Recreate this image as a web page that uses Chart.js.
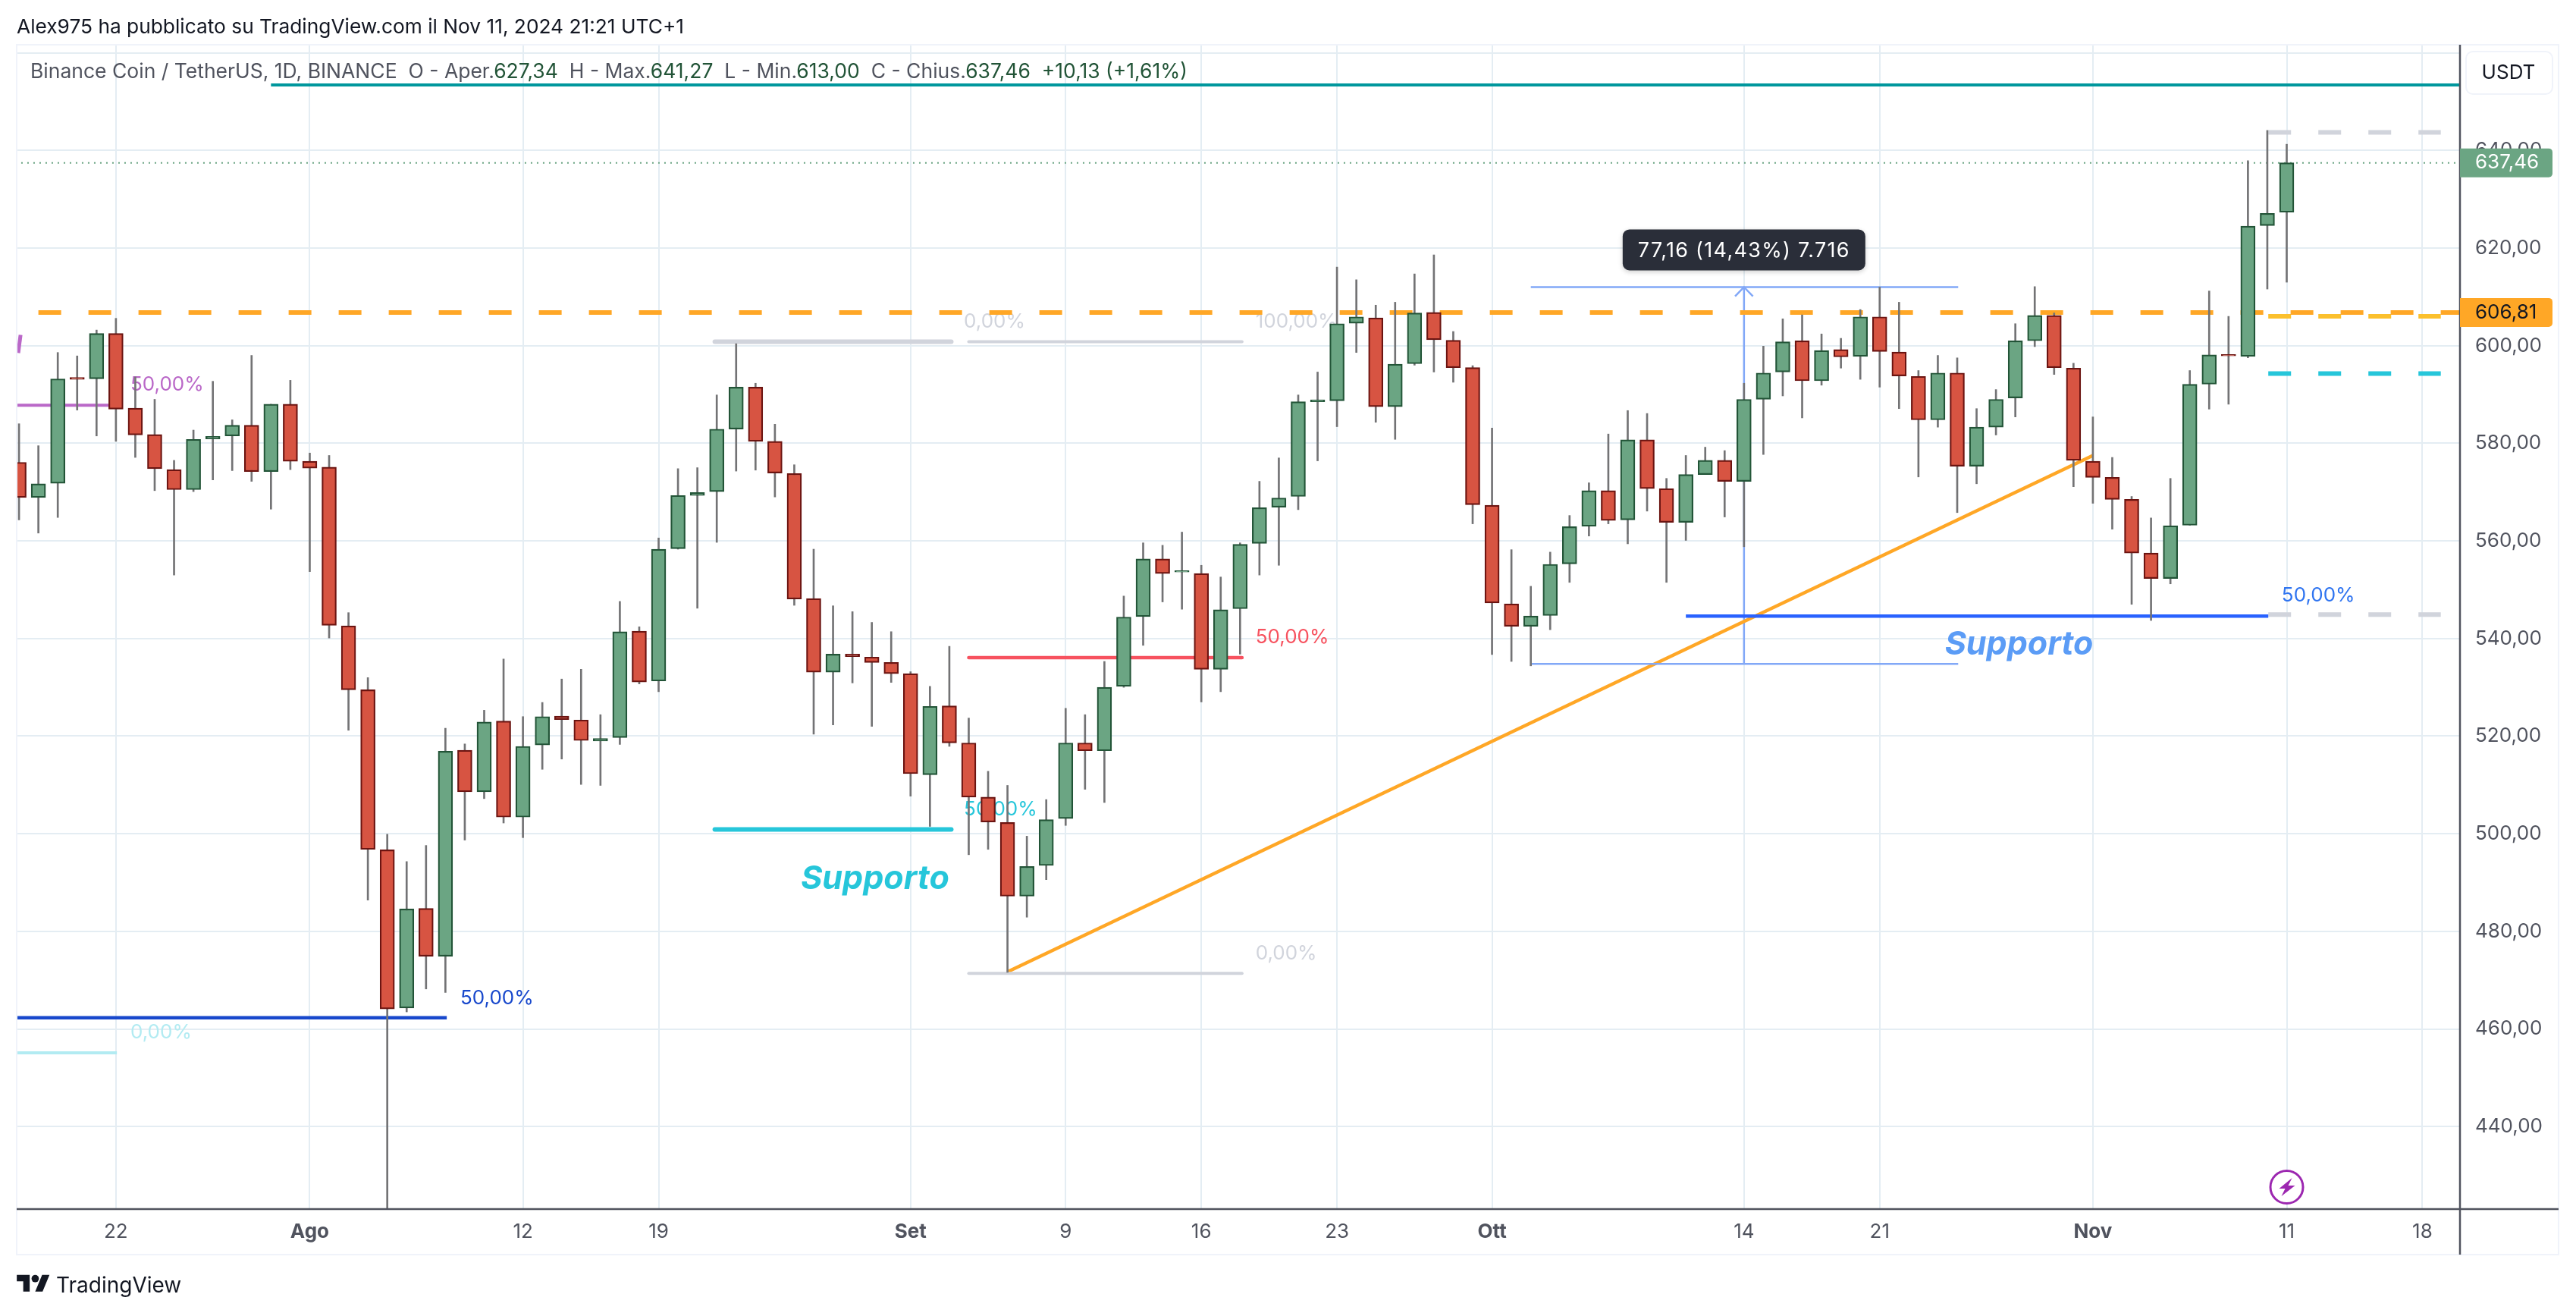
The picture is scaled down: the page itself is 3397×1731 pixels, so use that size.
<!DOCTYPE html>
<html lang="it">
<head>
<meta charset="utf-8">
<title>BNB / USDT</title>
<script src="https://cdn.jsdelivr.net/npm/chart.js@4"></script>
<style>
    html, body { margin: 0; padding: 0; background: #fff; }
    body { width: 3397px; height: 1731px; position: relative; overflow: hidden; font-family: Inter, sans-serif; }
    canvas { position: absolute; left: 0; top: 0; }
    .testata { position: absolute; left: 22px; top: 19px; font-size: 26.3px; line-height: 31px; color: #131722; white-space: pre; }
    .legenda { position: absolute; left: 40px; top: 78px; font-size: 26.5px; line-height: 31px; color: #50535e; white-space: pre; }
    .legenda b { font-weight: 400; color: #225437; }
    .marchio { position: absolute; left: 22px; top: 1676px; }
    .marchio-testo { position: absolute; left: 74px; top: 1677px; font-size: 28px; line-height: 34px; color: #131722; }
</style>
</head>
<body>
<canvas id="grafico" width="3397" height="1731"></canvas>
<div class="testata">Alex975 ha pubblicato su TradingView.com il Nov 11, 2024 21:21 UTC+1</div>
<div class="legenda">Binance Coin / TetherUS, 1D, BINANCE  O - Aper.<b>627,34</b>  H - Max.<b>641,27</b>  L - Min.<b>613,00</b>  C - Chius.<b>637,46</b>  <b>+10,13 (+1,61%)</b></div>
<svg class="marchio" width="44" height="34" viewBox="0 0 36 28"><path fill="#131722" d="M14 22H7V11H0V4h14v18zM28 22h-8l7.5-18h8L28 22z"/><circle fill="#131722" cx="20" cy="8" r="4"/></svg>
<div class="marchio-testo">TradingView</div>
<script>
// giorni contati dal 22 luglio 2024 (giorno 0)
const days = [-5,-4,-3,-2,-1,0,1,2,3,4,5,6,7,8,9,10,11,12,13,14,15,16,17,18,19,20,21,22,23,24,25,26,27,28,29,30,31,32,33,34,35,36,37,38,39,40,41,42,43,44,45,46,47,48,49,50,51,52,53,54,55,56,57,58,59,60,61,62,63,64,65,66,67,68,69,70,71,72,73,74,75,76,77,78,79,80,81,82,83,84,85,86,87,88,89,90,91,92,93,94,95,96,97,98,99,100,101,102,103,104,105,106,107,108,109,110,111,112];

const opens = [576.1,568.9,571.8,593.5,593.2,602.5,587.2,581.8,574.6,570.5,580.9,581.5,583.7,574.2,588,576.3,575.1,542.6,529.5,496.7,464.3,484.7,474.9,517.1,508.6,523.1,503.4,518.2,524.1,523.3,519,519.7,541.5,531.3,558.4,569.3,570.1,582.9,591.5,580.4,573.8,548.2,533.1,536.8,536.2,535.1,532.8,512.1,526.2,518.6,507.5,502.3,487.2,493.5,503.1,518.6,517,530.2,544.5,556.3,553.6,553.3,533.7,546.1,559.5,566.9,569.1,588.5,588.7,604.6,605.7,587.5,596.3,606.8,601.1,595.5,567.3,547.1,542.5,544.7,555.3,563,570.3,564.3,580.7,570.7,563.8,573.6,576.5,572.2,589,594.6,601,592.8,599.2,597.8,605.9,598.7,593.7,584.8,594.4,575.3,583.3,589.3,601,606.2,595.4,576.3,573,568.5,557.5,552.3,563.2,592.1,598.2,597.8,624.6,627.34];
const highs = [584,579.5,598.6,597.9,603.2,605.6,593.6,589,576.5,582.7,592.7,584.8,598,588,592.9,578,577.5,545.3,532,499.9,494.3,497.6,521.6,518.4,525.3,535.8,524,526.9,531.7,533.7,524.4,547.6,542.4,560.6,574.8,575,589.9,600.4,592.3,583.9,575.6,558.3,546.7,545.5,543.3,541.4,533.2,530.2,538.4,523.7,512.8,509.9,499.5,507,525.7,524.4,535.3,548.7,559.6,559.1,561.8,555,552.6,559.6,572.2,577,589.9,594.6,616.1,613.5,608.3,608.9,614.7,618.6,602.9,595.9,583.1,558.2,550.7,557.7,565.2,571.9,581.9,586.7,586.1,572.8,577.5,579.2,578.5,592.3,599.9,605.5,606.3,602.4,601.5,607.4,612,608.9,594.9,598,597.5,587.1,591,604.5,612.1,606.7,596.4,585.4,577.1,569.1,564.7,572.8,594.9,611.2,606,637.9,644.1,641.27];
const lows = [564.3,561.6,564.8,586.8,581.5,580.4,577.1,570.3,553,570.1,572.5,574.4,572.2,566.5,574.6,553.7,540.1,521.2,486.4,400,463.5,468.2,467.5,498.7,507.2,502.2,499.2,513.2,515.3,510.1,509.9,518.3,530.7,529.1,558.3,546.2,559.7,574.3,574.5,569,546.8,520.4,522.3,530.9,522,531,507.7,501.5,517.9,495.7,496.8,471.6,482.9,490.6,501.7,509.1,506.4,530,538.6,547.5,546,527,529.1,536.8,553,555,566.4,576.4,583.4,598.6,584.3,580.8,596,594.6,592.5,563.5,536.7,535.3,534.4,541.8,551.5,561,563.5,559.4,566.1,551.5,560.1,576.5,564.9,558.8,577.7,589.7,585.2,591.9,595.4,593.1,591.5,587.1,573.1,583.3,565.8,571.7,581.7,585.4,599.8,594.1,571.1,567.7,562.4,547,543.7,551.2,563.2,587,588,597.5,611.6,613];
const closes = [568.9,571.7,593.2,593.1,602.5,587,581.7,574.8,570.5,580.8,581.4,583.7,574.2,588,576.3,574.9,542.7,529.5,496.8,464.1,484.6,474.9,516.9,508.6,522.9,503.4,517.9,524,523.4,519.1,519.5,541.4,531.1,558.3,569.3,569.9,582.9,591.5,580.4,573.9,548.1,533.1,536.8,536.3,535.1,532.8,512.3,526.1,518.6,507.5,502.4,487.2,493.3,502.9,518.6,517,530,544.4,556.3,553.3,553.9,533.7,545.9,559.3,566.8,568.8,588.5,588.9,604.5,605.9,587.5,596.2,606.7,601.2,595.5,567.4,547.3,542.5,544.6,555.2,562.9,570.3,564.2,580.7,570.7,563.8,573.6,576.5,572.2,589,594.4,600.8,592.8,599,597.7,605.9,598.8,593.8,584.8,594.4,575.3,583.3,589,601,606.2,595.5,576.5,573,568.5,557.5,552.3,563.1,592.1,598.1,597.9,624.5,627.1,637.46];

const xTickDays = [0,10,21,28,41,49,56,63,71,84,91,102,112,119];
const xTickLabels = ['22','Ago','12','19','Set','9','16','23','Ott','14','21','Nov','11','18'];
const xMonthTicks = ['Ago','Set','Ott','Nov'];
const yTickValues = [440,460,480,500,520,540,560,580,600,620,640,660];

// livelli orizzontali: giorno iniziale, giorno finale, prezzo
const levelNames = ['viola','bluScuro','cianoChiaro','grigioSpesso','grigioAlto','rosso','cianoSpesso','grigioBasso','bluSupporto','arancio','tealAlto','prezzo','destraGrigio1','destraGiallo','destraCiano','destraGrigio2','misuraAlto','misuraBasso'];
const levelStart = [-5.2,-5.2,-5.2,30.9,44,44,30.9,44,81,-4,8,-5.2,111.05,111.05,111.05,111.05,73,73];
const levelEnd = [0,17.07,0.05,43.1,58.1,58.1,43.1,58.1,111.05,120.94,120.94,120.94,119.95,119.95,119.95,119.95,95.05,95.05];
const levelPrice = [587.8,462.3,455.1,600.8,600.8,536.1,500.9,471.4,544.6,606.81,653.4,637.46,643.7,606,594.3,544.9,612,534.8];

// trendline e segnetto viola in alto a sinistra
const trendDays = [46,102];
const trendPrices = [471.7,577.5];
const purpleDays = [-5.04,-4.92];
const purplePrices = [598.5,602.2];

// freccia della misura
const arrowDays = [84,84];
const arrowPrices = [534.8,612];
const arrowHeadDays = [83.54,84,84.46];
const arrowHeadPrices = [610.1,612,610.1];

// etichette dei ritracciamenti
const labelTexts = ['50,00%','50,00%','0,00%','0,00%','100,00%','50,00%','50,00%','0,00%','50,00%'];
const labelDays = [0.75,17.77,0.75,43.75,58.8,58.8,43.75,58.8,111.74];
const labelPrices = [592,466.3,459.3,604.9,604.9,540.2,505,475.5,548.8];
const supportDays = [35.34,94.36];
const supportPrices = [490.7,538.7];

const lastPrice = 637.46;
const levelPrice2 = 606.81;

const GRID = '#e4edf3';
const ASSE = '#50535e';
const FONT = 'Inter, sans-serif';

const labelColors = ['#ba68c8','#1848cc','#b2ebf2','#d1d4dc','#d1d4dc','#f7525f','#26c6da','#d1d4dc','#2f74f0'];
const supportColors = ['#26c6da','#5b9cf6'];

const levelStyles = {
    viola: { color: '#ba68c8', width: 4 },
    bluScuro: { color: '#1848cc', width: 4.5 },
    cianoChiaro: { color: '#b2ebf2', width: 4 },
    grigioSpesso: { color: '#d1d4dc', width: 6, cap: 'round' },
    grigioAlto: { color: '#d1d4dc', width: 4, cap: 'round' },
    rosso: { color: '#f7525f', width: 4.5, cap: 'round' },
    cianoSpesso: { color: '#26c6da', width: 6, cap: 'round' },
    grigioBasso: { color: '#d1d4dc', width: 4, cap: 'round' },
    bluSupporto: { color: '#2962ff', width: 4.5 },
    arancio: { color: '#ffa726', width: 6, dash: [30, 36] },
    tealAlto: { color: '#00979d', width: 4 },
    prezzo: { color: '#6ba583', width: 2, dash: [2, 6] },
    destraGrigio1: { color: '#d1d4dc', width: 6, dash: [30, 36] },
    destraGiallo: { color: '#fbc02d', width: 6, dash: [30, 36] },
    destraCiano: { color: '#26c6da', width: 6, dash: [30, 36] },
    destraGrigio2: { color: '#d1d4dc', width: 6, dash: [30, 36] },
    misuraAlto: { color: '#82a8f7', width: 2.5 },
    misuraBasso: { color: '#82a8f7', width: 2.5 }
};

function lineaDataset(xs, ys, style) {
    return {
        type: 'line',
        data: xs.map((x, i) => ({ x: x, y: ys[i] })),
        borderColor: style.color,
        borderWidth: style.width,
        borderDash: style.dash || [],
        borderCapStyle: style.cap || 'butt',
        pointRadius: 0,
        tension: 0,
        order: 5
    };
}

const lineDatasets = levelNames.map((nome, i) =>
    lineaDataset([levelStart[i], levelEnd[i]], [levelPrice[i], levelPrice[i]], levelStyles[nome]));
lineDatasets.push(lineaDataset(trendDays, trendPrices, { color: '#ffa726', width: 4.5 }));
lineDatasets.push(lineaDataset(purpleDays, purplePrices, { color: '#ba68c8', width: 5 }));
lineDatasets.push(lineaDataset(arrowDays, arrowPrices, { color: '#82a8f7', width: 2.5 }));
lineDatasets.push(lineaDataset(arrowHeadDays, arrowHeadPrices, { color: '#82a8f7', width: 2.5 }));

const wickDataset = {
    type: 'bar',
    data: days.map((d, i) => ({ x: d, y: [lows[i], highs[i]] })),
    backgroundColor: '#737375',
    borderWidth: 0,
    maxBarThickness: 2,
    order: 2
};

const bodyDataset = {
    type: 'bar',
    data: days.map((d, i) => ({ x: d, y: [opens[i], closes[i]] })),
    backgroundColor: days.map((d, i) => closes[i] >= opens[i] ? '#6ba583' : '#d75442'),
    borderColor: days.map((d, i) => closes[i] >= opens[i] ? '#225437' : '#6b1411'),
    borderWidth: 2.2,
    borderSkipped: false,
    maxBarThickness: 19,
    order: 1
};

// scritte dietro le candele
const etichettePlugin = {
    id: 'etichette',
    beforeDatasetsDraw(chart) {
        const { ctx, scales: { x, y } } = chart;
        ctx.save();
        ctx.textBaseline = 'middle';
        ctx.textAlign = 'left';
        ctx.font = '26px ' + FONT;
        labelTexts.forEach((t, i) => {
            ctx.fillStyle = labelColors[i];
            ctx.fillText(t, x.getPixelForValue(labelDays[i]), y.getPixelForValue(labelPrices[i]));
        });
        ctx.font = 'italic 700 43px ' + FONT;
        supportDays.forEach((d, i) => {
            ctx.fillStyle = supportColors[i];
            ctx.fillText('Supporto', x.getPixelForValue(d), y.getPixelForValue(supportPrices[i]));
        });
        ctx.restore();
    }
};

function etichettaPrezzo(ctx, area, y, testo, sfondo, colore) {
    const xa = area.right;
    ctx.fillStyle = sfondo;
    ctx.beginPath();
    ctx.roundRect(xa, y - 19, 122, 38, [0, 5, 5, 0]);
    ctx.fill();
    ctx.fillStyle = colore;
    ctx.font = '26px ' + FONT;
    ctx.textAlign = 'left';
    ctx.textBaseline = 'middle';
    ctx.fillText(testo, xa + 20, y);
}

// cornice, assi, prezzi, riquadro della misura e icona
const corniciPlugin = {
    id: 'cornici',
    afterDraw(chart) {
        const { ctx, chartArea: a, scales: { x, y } } = chart;
        const destra = chart.width - 23;
        const fondo = a.bottom + 60;
        ctx.save();

        ctx.strokeStyle = '#f0f3fa';
        ctx.lineWidth = 2;
        ctx.strokeRect(a.left, a.top, destra - a.left, fondo - a.top);

        ctx.strokeStyle = ASSE;
        ctx.lineWidth = 2.5;
        ctx.beginPath();
        ctx.moveTo(a.left, a.bottom);
        ctx.lineTo(destra, a.bottom);
        ctx.moveTo(a.right, a.top);
        ctx.lineTo(a.right, fondo);
        ctx.stroke();

        etichettaPrezzo(ctx, a, y.getPixelForValue(levelPrice2), '606,81', '#ffa726', '#131722');
        etichettaPrezzo(ctx, a, y.getPixelForValue(lastPrice), '637,46', '#6ba583', '#ffffff');

        // bottone valuta
        ctx.fillStyle = '#fff';
        ctx.strokeStyle = '#f0f3fa';
        ctx.lineWidth = 2;
        ctx.beginPath();
        ctx.roundRect(a.right + 8, 68, 114, 56, 9);
        ctx.fill();
        ctx.stroke();
        ctx.fillStyle = '#131722';
        ctx.font = '26px ' + FONT;
        ctx.textAlign = 'center';
        ctx.textBaseline = 'middle';
        ctx.fillText('USDT', a.right + 64, 96);

        // riquadro della misura
        const cx = x.getPixelForValue(84);
        const cy = y.getPixelForValue(612) - 49;
        ctx.fillStyle = '#2a2e39';
        ctx.shadowColor = 'rgba(0,0,0,0.2)';
        ctx.shadowBlur = 6;
        ctx.shadowOffsetY = 2;
        ctx.beginPath();
        ctx.roundRect(cx - 160, cy - 27, 320, 54, 9);
        ctx.fill();
        ctx.shadowColor = 'transparent';
        ctx.fillStyle = '#ffffff';
        ctx.font = '27px ' + FONT;
        ctx.letterSpacing = '1.3px';
        ctx.fillText('77,16 (14,43%) 7.716', cx, cy + 1);
        ctx.letterSpacing = '0px';

        // icona lampo sul giorno 11
        const ix = x.getPixelForValue(112);
        const iy = a.bottom - 29;
        ctx.fillStyle = '#fff';
        ctx.strokeStyle = '#9c27b0';
        ctx.lineWidth = 3;
        ctx.beginPath();
        ctx.arc(ix, iy, 21.5, 0, Math.PI * 2);
        ctx.fill();
        ctx.stroke();
        ctx.fillStyle = '#9c27b0';
        ctx.beginPath();
        ctx.moveTo(ix + 7, iy - 12);
        ctx.lineTo(ix - 10, iy + 2);
        ctx.lineTo(ix - 2, iy + 2);
        ctx.lineTo(ix - 7, iy + 12);
        ctx.lineTo(ix + 11, iy - 2);
        ctx.lineTo(ix + 2, iy - 2);
        ctx.closePath();
        ctx.fill();

        ctx.restore();
    }
};

document.addEventListener('DOMContentLoaded', function() {
    new Chart(document.getElementById('grafico').getContext('2d'), {
        data: { datasets: [bodyDataset, wickDataset].concat(lineDatasets) },
        plugins: [etichettePlugin, corniciPlugin],
        options: {
            responsive: false,
            animation: false,
            layout: { padding: { left: 22, right: 23, top: 59, bottom: 77 } },
            plugins: { legend: { display: false }, tooltip: { enabled: false } },
            datasets: { bar: { grouped: false, barPercentage: 1, categoryPercentage: 1 } },
            scales: {
                x: {
                    type: 'linear',
                    offset: false,
                    min: -5.12,
                    max: 120.94,
                    afterBuildTicks(scale) { scale.ticks = xTickDays.map(v => ({ value: v })); },
                    afterFit(scale) { scale.height = 60; },
                    border: { display: false },
                    grid: { color: GRID, lineWidth: 2, drawTicks: false, offset: false },
                    ticks: {
                        autoSkip: false,
                        maxRotation: 0,
                        padding: 15,
                        color: ASSE,
                        font(c) {
                            const t = xTickLabels[xTickDays.indexOf(c.tick && c.tick.value)];
                            return { family: FONT, size: 26, weight: xMonthTicks.includes(t) ? '700' : '400' };
                        },
                        callback(v) { return xTickLabels[xTickDays.indexOf(v)]; }
                    }
                },
                y: {
                    position: 'right',
                    min: 423.1,
                    max: 661.65,
                    afterBuildTicks(scale) { scale.ticks = yTickValues.map(v => ({ value: v })); },
                    afterFit(scale) { scale.width = 130; },
                    border: { display: false },
                    grid: { color: GRID, lineWidth: 2, drawTicks: false },
                    ticks: {
                        padding: 20,
                        color: ASSE,
                        font: { family: FONT, size: 26 },
                        callback(v) { return v === 660 ? '' : v.toFixed(2).replace('.', ','); }
                    }
                }
            }
        }
    });
});
</script>
</body>
</html>
